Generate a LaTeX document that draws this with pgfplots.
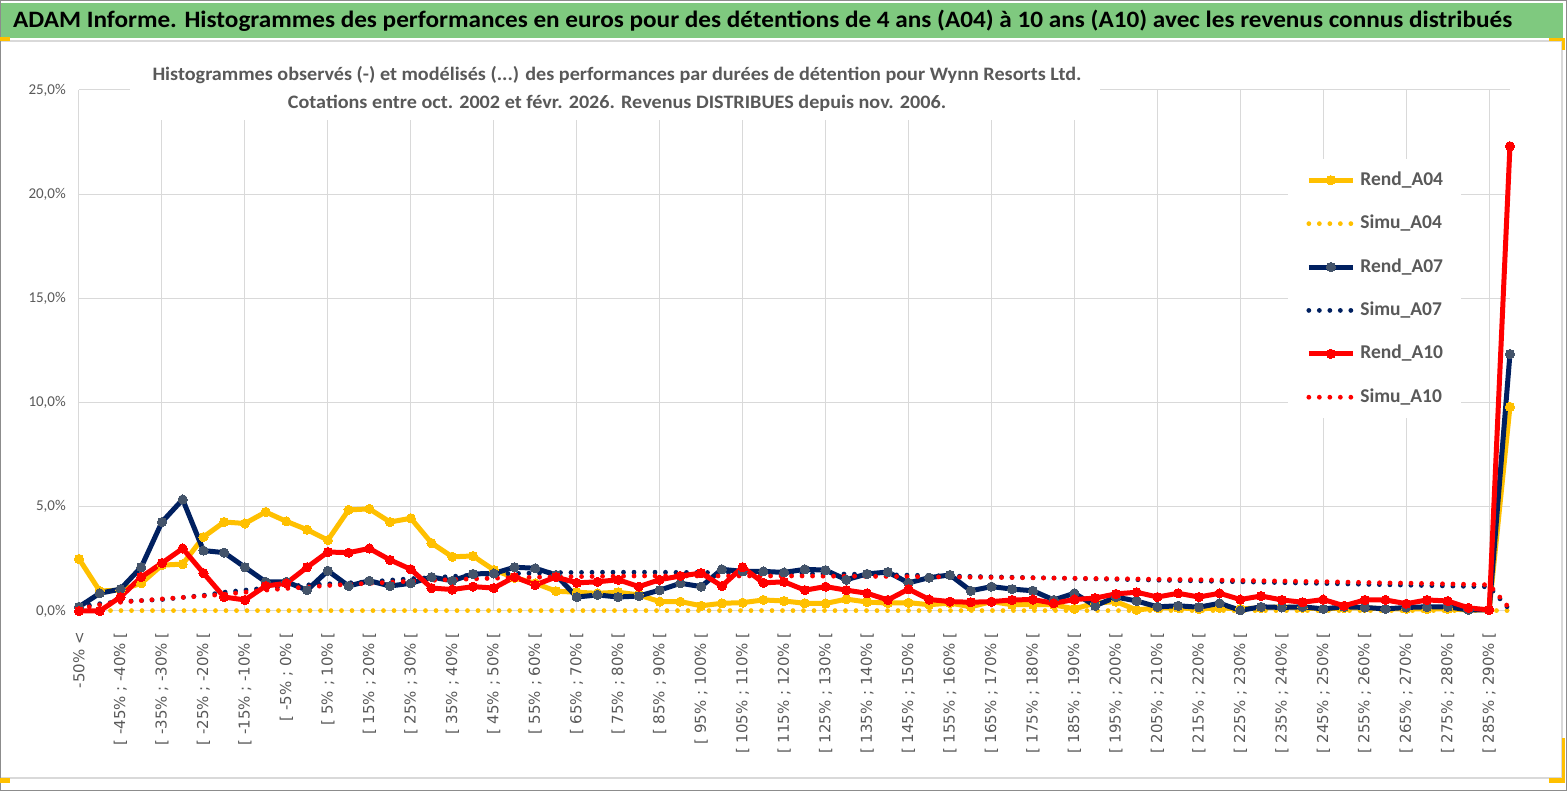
\documentclass[border=0pt]{standalone}
\usepackage{fontspec}
\setmainfont{Carlito}
\newfontfamily\dejavu{DejaVu Sans}
\usepackage{graphicx}
\usepackage{pgfplots}
\usepackage{pgfplotstable}
\pgfplotsset{compat=1.18}
\definecolor{ttlgreen}{HTML}{7FC97F}
\definecolor{txtgray}{HTML}{595959}
\definecolor{gridgray}{HTML}{D9D9D9}
\definecolor{frgray}{HTML}{8C8C8C}
\definecolor{cyel}{HTML}{FFC000}
\definecolor{cnavy}{HTML}{002060}
\definecolor{cslate}{HTML}{44546A}
\definecolor{cred}{HTML}{FF0000}

\pgfplotstableread{
i RA04 SA04 RA07 SA07 RA10 SA10
0 2.50 0.02 0.20 0.20 0.00 0.10
1 0.96 0.02 0.85 0.35 0.00 0.30
2 1.00 0.02 1.05 0.45 0.67 0.42
3 1.33 0.02 2.10 0.50 1.63 0.50
4 2.20 0.02 4.27 0.55 2.30 0.58
5 2.25 0.02 5.35 0.65 3.00 0.65
6 3.55 0.02 2.90 0.75 1.82 0.72
7 4.27 0.02 2.80 0.90 0.67 0.80
8 4.20 0.02 2.10 1.00 0.53 0.90
9 4.75 0.02 1.40 1.10 1.20 1.00
10 4.30 0.02 1.40 1.18 1.33 1.08
11 3.90 0.02 1.00 1.25 2.10 1.15
12 3.40 0.02 1.93 1.30 2.83 1.22
13 4.85 0.02 1.20 1.35 2.80 1.28
14 4.90 0.02 1.45 1.40 3.00 1.33
15 4.27 0.02 1.20 1.48 2.45 1.38
16 4.45 0.02 1.33 1.55 2.00 1.43
17 3.26 0.02 1.63 1.60 1.10 1.47
18 2.60 0.02 1.45 1.66 1.03 1.51
19 2.64 0.02 1.78 1.72 1.17 1.54
20 1.97 0.02 1.80 1.76 1.10 1.57
21 1.60 0.02 2.10 1.80 1.63 1.60
22 1.33 0.02 2.05 1.82 1.25 1.62
23 0.95 0.02 1.73 1.84 1.63 1.64
24 0.90 0.02 0.67 1.85 1.35 1.65
25 0.85 0.02 0.77 1.86 1.40 1.66
26 0.90 0.02 0.67 1.86 1.50 1.67
27 0.77 0.02 0.72 1.86 1.17 1.68
28 0.45 0.02 1.00 1.86 1.50 1.68
29 0.45 0.02 1.33 1.85 1.68 1.68
30 0.25 0.02 1.17 1.85 1.82 1.68
31 0.37 0.02 2.00 1.84 1.20 1.68
32 0.40 0.02 1.90 1.83 2.10 1.68
33 0.53 0.02 1.90 1.82 1.35 1.68
34 0.48 0.02 1.85 1.81 1.40 1.68
35 0.37 0.02 2.00 1.80 1.00 1.68
36 0.36 0.02 1.96 1.78 1.17 1.67
37 0.57 0.02 1.50 1.77 1.00 1.67
38 0.43 0.02 1.78 1.76 0.85 1.66
39 0.38 0.02 1.87 1.74 0.53 1.66
40 0.40 0.02 1.35 1.72 1.05 1.65
41 0.30 0.02 1.60 1.70 0.55 1.64
42 0.38 0.02 1.73 1.68 0.45 1.63
43 0.20 0.02 0.97 1.66 0.42 1.62
44 0.45 0.02 1.17 1.64 0.45 1.61
45 0.30 0.02 1.05 1.62 0.53 1.60
46 0.30 0.02 0.97 1.60 0.55 1.59
47 0.30 0.02 0.53 1.58 0.37 1.58
48 0.10 0.02 0.85 1.56 0.55 1.57
49 0.38 0.02 0.25 1.54 0.62 1.56
50 0.45 0.02 0.67 1.52 0.82 1.55
51 0.05 0.02 0.48 1.50 0.90 1.54
52 0.15 0.02 0.20 1.48 0.67 1.52
53 0.15 0.02 0.25 1.46 0.85 1.51
54 0.10 0.02 0.18 1.44 0.67 1.50
55 0.15 0.02 0.37 1.42 0.85 1.48
56 0.10 0.02 0.03 1.40 0.55 1.47
57 0.15 0.02 0.20 1.38 0.72 1.45
58 0.20 0.02 0.17 1.36 0.53 1.44
59 0.15 0.02 0.20 1.34 0.42 1.42
60 0.10 0.02 0.10 1.32 0.55 1.41
61 0.15 0.02 0.20 1.30 0.25 1.39
62 0.15 0.02 0.17 1.28 0.53 1.37
63 0.10 0.02 0.10 1.26 0.53 1.35
64 0.10 0.02 0.17 1.24 0.35 1.34
65 0.10 0.02 0.20 1.22 0.53 1.32
66 0.10 0.02 0.20 1.20 0.48 1.30
67 0.05 0.02 0.05 1.18 0.15 1.28
68 0.05 0.02 0.05 1.16 0.05 1.26
69 9.80 0.02 12.33 0.05 22.30 0.10
}\perfdata

\begin{document}
\begin{tikzpicture}
\useasboundingbox (0,0) rectangle (1567pt,791pt);
% outer frame
\fill[white] (0,0) rectangle (1567pt,791pt);
\fill[ttlgreen] (1pt,753pt) rectangle (1563pt,788pt);
\draw[gridgray, line width=1.5pt] (0pt,750pt) -- (1562pt,750pt) -- (1562pt,13pt) -- (0pt,13pt);
\draw[frgray, line width=1.2pt] (0.6pt,0.6pt) rectangle (1566.4pt,790.4pt);
\fill[cyel] (0pt,750pt) rectangle (10pt,753.5pt);
\fill[cyel] (1549pt,750pt) rectangle (1565pt,753pt);
\fill[cyel] (1562pt,741pt) rectangle (1565pt,753pt);
\fill[cyel] (0pt,8pt) rectangle (10pt,13pt);
\fill[cyel] (1549pt,8pt) rectangle (1565pt,13pt);
\fill[cyel] (1562pt,8pt) rectangle (1565pt,53pt);
\node[anchor=base west, inner sep=0pt, font=\bfseries\fontsize{23.5}{27}\selectfont] at (13pt,763pt)
 {\resizebox{1499pt}{\height}{ADAM Informe. Histogrammes des performances en euros pour des détentions de 4 ans (A04) à 10 ans (A10) avec les revenus connus distribués}};

\begin{axis}[
  at={(79pt,180pt)}, anchor=south west,
  scale only axis, width=1431pt, height=521pt,
  xmin=0, xmax=69, ymin=0, ymax=25,
  clip=false,
  axis line style={draw=none},
  major tick length=0pt, minor tick length=0pt,
  ytick={0,5,...,25},
  yticklabels={{0,0\%},{5,0\%},{10,0\%},{15,0\%},{20,0\%},{25,0\%}},
  yticklabel style={font=\fontsize{15}{18}\selectfont, text=txtgray, anchor=east, inner sep=0pt, xshift=-13pt},
  ymajorgrids,
  xtick={0,2,...,68},
  xticklabels={{-50\% <},{[ -45\% ; -40\% [},{[ -35\% ; -30\% [},{[ -25\% ; -20\% [},{[ -15\% ; -10\% [},{[ -5\% ; 0\% [},{[ 5\% ; 10\% [},{[ 15\% ; 20\% [},{[ 25\% ; 30\% [},{[ 35\% ; 40\% [},{[ 45\% ; 50\% [},{[ 55\% ; 60\% [},{[ 65\% ; 70\% [},{[ 75\% ; 80\% [},{[ 85\% ; 90\% [},{[ 95\% ; 100\% [},{[ 105\% ; 110\% [},{[ 115\% ; 120\% [},{[ 125\% ; 130\% [},{[ 135\% ; 140\% [},{[ 145\% ; 150\% [},{[ 155\% ; 160\% [},{[ 165\% ; 170\% [},{[ 175\% ; 180\% [},{[ 185\% ; 190\% [},{[ 195\% ; 200\% [},{[ 205\% ; 210\% [},{[ 215\% ; 220\% [},{[ 225\% ; 230\% [},{[ 235\% ; 240\% [},{[ 245\% ; 250\% [},{[ 255\% ; 260\% [},{[ 265\% ; 270\% [},{[ 275\% ; 280\% [},{[ 285\% ; 290\% [}},
  xticklabel style={font=\dejavu\fontsize{15}{18}\selectfont, text=txtgray, rotate=90, anchor=east, inner sep=0pt},
  xticklabel shift=21pt,
  minor xtick={0,4,...,68},
  xminorgrids, xmajorgrids=false,
  grid style={gridgray, line width=1pt},
  minor grid style={gridgray, line width=1pt},
  legend image code/.code={\draw[mark repeat=2,mark phase=2,#1] plot coordinates {(0pt,0pt) (22pt,0pt) (44pt,0pt)};},
  legend cell align=left,
  legend style={at={(0.845,0.8675)}, anchor=north west, draw=none, fill=white,
    font=\bfseries\fontsize{19.5}{22}\selectfont, text=txtgray,
    inner xsep=18pt, inner ysep=12pt, row sep=25.4pt, column sep=5pt,
    nodes={inner sep=0pt, text height=14pt, text depth=4pt}},
  rend/.style={line width=5pt, line join=round, mark=*, mark size=4.6pt},
  simu/.style={line width=4.8pt, line cap=round, dash pattern=on 0pt off 10.5pt, mark=none},
]
\addplot[rend, color=cyel, mark options={solid, fill=cyel, draw=cyel, line width=0pt}] table[x=i, y=RA04] {\perfdata};
\addlegendentry{Rend\_A04}
\addplot[simu, color=cyel] table[x=i, y=SA04] {\perfdata};
\addlegendentry{Simu\_A04}
\addplot[rend, color=cnavy, mark options={solid, fill=cslate, draw=cslate, line width=0pt}] table[x=i, y=RA07] {\perfdata};
\addlegendentry{Rend\_A07}
\addplot[simu, color=cnavy] table[x=i, y=SA07] {\perfdata};
\addlegendentry{Simu\_A07}
\addplot[rend, color=cred, mark options={solid, fill=cred, draw=cred, line width=0pt}] table[x=i, y=RA10] {\perfdata};
\addlegendentry{Rend\_A10}
\addplot[simu, color=cred] table[x=i, y=SA10] {\perfdata};
\addlegendentry{Simu\_A10}
\end{axis}

% subtitle box over the grid
\fill[white] (130pt,671pt) rectangle (1100pt,733pt);
\node[anchor=base, inner sep=0pt, text=txtgray, font=\bfseries\fontsize{19}{28}\selectfont] at (617pt,710pt)
 {\resizebox{929pt}{\height}{\begin{tabular}[t]{@{}c@{}}Histogrammes observés (-) et modélisés (...) des performances par durées de détention pour Wynn Resorts Ltd.\\
  Cotations entre oct. 2002 et févr. 2026. Revenus DISTRIBUES depuis nov. 2006.\end{tabular}}};
\end{tikzpicture}
\end{document}
